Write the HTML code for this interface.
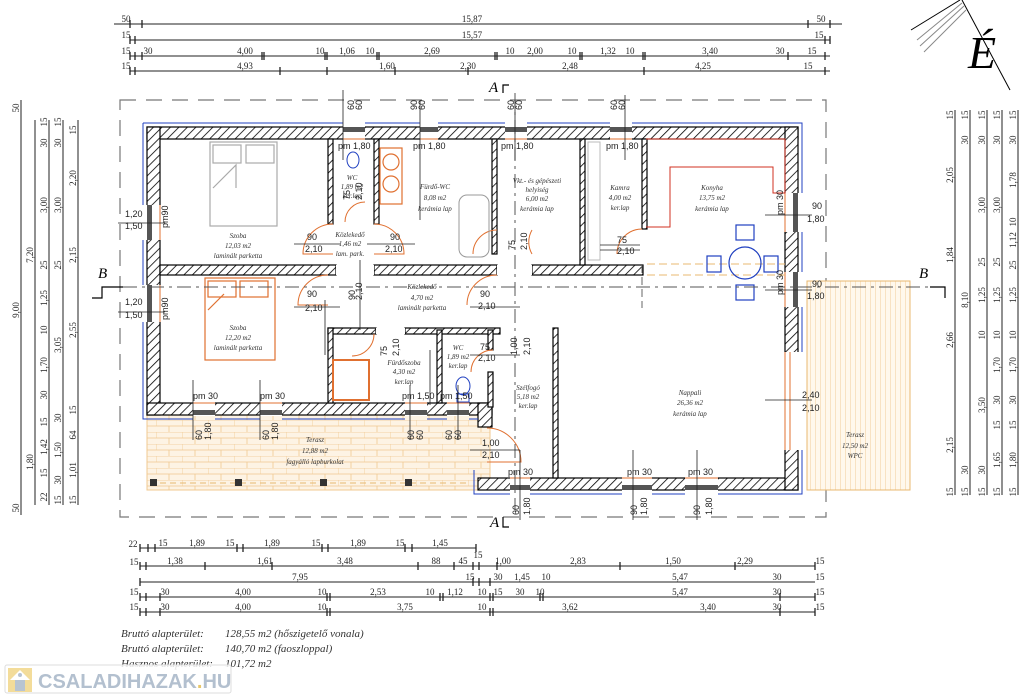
<!DOCTYPE html>
<html><head><meta charset="utf-8"><style>
html,body{margin:0;padding:0;background:#fff;}
svg{display:block;font-family:"Liberation Serif",serif;}
.d{font-size:9px;fill:#222;}
.s{font-family:"Liberation Sans",sans-serif;font-size:9px;fill:#222;}
.r{font-size:7px;font-style:italic;fill:#333;text-anchor:middle;}
</style></head><body>
<svg width="1024" height="699" viewBox="0 0 1024 699" xmlns="http://www.w3.org/2000/svg">
<defs>
<pattern id="h" width="6" height="6" patternUnits="userSpaceOnUse" patternTransform="rotate(45)">
<rect width="6" height="6" fill="#fff"/><line x1="0" y1="0" x2="0" y2="6" stroke="#000" stroke-width="1.6"/></pattern>
<pattern id="brick" width="26" height="12" patternUnits="userSpaceOnUse">
<rect width="26" height="12" fill="#fdf3e4"/><path d="M0 0H26M0 6H26M0 0V6M13 6V12" stroke="#f0c890" stroke-width="0.8" fill="none"/></pattern>
<pattern id="wpc" width="5" height="10" patternUnits="userSpaceOnUse">
<rect width="5" height="10" fill="#fff8ec"/><line x1="0" y1="0" x2="0" y2="10" stroke="#f0c890" stroke-width="0.9"/></pattern>
</defs>

<!-- north symbol -->
<g stroke="#000" fill="none">
<line x1="911" y1="30" x2="960" y2="0"/><line x1="917" y1="40" x2="962" y2="3" stroke="#888"/><line x1="920" y1="46" x2="964" y2="6" stroke="#888"/><line x1="924" y1="52" x2="966" y2="10" stroke="#888"/>
<line x1="962" y1="0" x2="1010" y2="90"/>
</g>
<text x="968" y="68" font-size="46" font-style="italic" fill="#000">É</text>

<!-- top dimension rows -->
<g stroke="#222" stroke-width="1">
<line x1="114" y1="24" x2="842" y2="24"/><line x1="130" y1="40" x2="830" y2="40"/><line x1="130" y1="56" x2="830" y2="56"/><line x1="130" y1="71" x2="830" y2="71"/>
</g>
<g class="d" text-anchor="middle">
<text x="126" y="22">50</text><text x="472" y="22">15,87</text><text x="821" y="22">50</text>
<text x="126" y="38">15</text><text x="472" y="38">15,57</text><text x="819" y="38">15</text>
<text x="126" y="54">15</text><text x="148" y="54">30</text><text x="245" y="54">4,00</text><text x="256" y="54"></text><text x="320" y="54">10</text><text x="347" y="54">1,06</text><text x="370" y="54">10</text><text x="432" y="54">2,69</text><text x="510" y="54">10</text><text x="535" y="54">2,00</text><text x="572" y="54">10</text><text x="608" y="54">1,32</text><text x="630" y="54">10</text><text x="710" y="54">3,40</text><text x="780" y="54">30</text><text x="812" y="54">15</text>
<text x="126" y="69">15</text><text x="245" y="69">4,93</text><text x="387" y="69">1,60</text><text x="468" y="69">2,30</text><text x="570" y="69">2,48</text><text x="703" y="69">4,25</text><text x="808" y="69">15</text>
</g>
<g stroke="#222" stroke-width="1.3">
<path d="M130 20v8M142 20v8M808 20v8M830 20v8M130 36v8M135 36v8M825 36v8M830 36v8M130 52v8M135 52v8M142 52v8M262 52v8M264 52v8M325 52v8M327 52v8M377 52v8M379 52v8M495 52v8M497 52v8M580 52v8M582 52v8M643 52v8M645 52v8M788 52v8M825 52v8M130 67v8M135 67v8M280 67v8M327 67v8M395 67v8M468 67v8M644 67v8M825 67v8"/>
</g>

<!-- left vertical dims -->
<g stroke="#222" stroke-width="1">
<line x1="21" y1="100" x2="21" y2="515"/><line x1="35" y1="120" x2="35" y2="505"/><line x1="49" y1="120" x2="49" y2="505"/><line x1="63" y1="120" x2="63" y2="505"/><line x1="78" y1="120" x2="78" y2="505"/>
</g>
<g class="d" text-anchor="middle">
<text transform="translate(19,108) rotate(-90)">50</text><text transform="translate(19,310) rotate(-90)">9,00</text><text transform="translate(19,508) rotate(-90)">50</text>
<text transform="translate(33,255) rotate(-90)">7,20</text><text transform="translate(33,462) rotate(-90)">1,80</text>
<text transform="translate(47,122) rotate(-90)">15</text><text transform="translate(47,143) rotate(-90)">30</text><text transform="translate(47,205) rotate(-90)">3,00</text><text transform="translate(47,265) rotate(-90)">25</text><text transform="translate(47,298) rotate(-90)">1,25</text><text transform="translate(47,330) rotate(-90)">10</text><text transform="translate(47,365) rotate(-90)">1,70</text><text transform="translate(47,395) rotate(-90)">30</text><text transform="translate(47,422) rotate(-90)">15</text><text transform="translate(47,447) rotate(-90)">1,42</text><text transform="translate(47,473) rotate(-90)">15</text><text transform="translate(47,497) rotate(-90)">22</text>
<text transform="translate(61,122) rotate(-90)">15</text><text transform="translate(61,143) rotate(-90)">30</text><text transform="translate(61,205) rotate(-90)">3,00</text><text transform="translate(61,265) rotate(-90)">25</text><text transform="translate(61,345) rotate(-90)">3,05</text><text transform="translate(61,418) rotate(-90)">30</text><text transform="translate(61,450) rotate(-90)">1,50</text><text transform="translate(61,480) rotate(-90)">30</text><text transform="translate(61,500) rotate(-90)">15</text>
<text transform="translate(76,130) rotate(-90)">15</text><text transform="translate(76,178) rotate(-90)">2,20</text><text transform="translate(76,255) rotate(-90)">2,15</text><text transform="translate(76,330) rotate(-90)">2,55</text><text transform="translate(76,410) rotate(-90)">15</text><text transform="translate(76,435) rotate(-90)">64</text><text transform="translate(76,470) rotate(-90)">1,01</text><text transform="translate(76,500) rotate(-90)">15</text>
</g>

<!-- right vertical dims -->
<g stroke="#222" stroke-width="1">
<line x1="955" y1="110" x2="955" y2="495"/><line x1="970" y1="110" x2="970" y2="495"/><line x1="987" y1="110" x2="987" y2="495"/><line x1="1002" y1="110" x2="1002" y2="495"/><line x1="1018" y1="110" x2="1018" y2="495"/>
</g>
<g class="d" text-anchor="middle">
<text transform="translate(953,115) rotate(-90)">15</text><text transform="translate(953,175) rotate(-90)">2,05</text><text transform="translate(953,255) rotate(-90)">1,84</text><text transform="translate(953,340) rotate(-90)">2,66</text><text transform="translate(953,445) rotate(-90)">2,15</text><text transform="translate(953,492) rotate(-90)">15</text>
<text transform="translate(968,115) rotate(-90)">15</text><text transform="translate(968,140) rotate(-90)">30</text><text transform="translate(968,300) rotate(-90)">8,10</text><text transform="translate(968,470) rotate(-90)">30</text><text transform="translate(968,492) rotate(-90)">15</text>
<text transform="translate(985,115) rotate(-90)">15</text><text transform="translate(985,140) rotate(-90)">30</text><text transform="translate(985,205) rotate(-90)">3,00</text><text transform="translate(985,262) rotate(-90)">25</text><text transform="translate(985,295) rotate(-90)">1,25</text><text transform="translate(985,335) rotate(-90)">10</text><text transform="translate(985,405) rotate(-90)">3,50</text><text transform="translate(985,470) rotate(-90)">30</text><text transform="translate(985,492) rotate(-90)">15</text>
<text transform="translate(1000,115) rotate(-90)">15</text><text transform="translate(1000,140) rotate(-90)">30</text><text transform="translate(1000,205) rotate(-90)">3,00</text><text transform="translate(1000,262) rotate(-90)">25</text><text transform="translate(1000,295) rotate(-90)">1,25</text><text transform="translate(1000,335) rotate(-90)">10</text><text transform="translate(1000,365) rotate(-90)">1,70</text><text transform="translate(1000,400) rotate(-90)">30</text><text transform="translate(1000,425) rotate(-90)">15</text><text transform="translate(1000,460) rotate(-90)">1,65</text><text transform="translate(1000,492) rotate(-90)">15</text>
<text transform="translate(1016,115) rotate(-90)">15</text><text transform="translate(1016,140) rotate(-90)">30</text><text transform="translate(1016,180) rotate(-90)">1,78</text><text transform="translate(1016,222) rotate(-90)">10</text><text transform="translate(1016,240) rotate(-90)">1,12</text><text transform="translate(1016,265) rotate(-90)">25</text><text transform="translate(1016,295) rotate(-90)">1,25</text><text transform="translate(1016,335) rotate(-90)">10</text><text transform="translate(1016,365) rotate(-90)">1,70</text><text transform="translate(1016,400) rotate(-90)">30</text><text transform="translate(1016,425) rotate(-90)">15</text><text transform="translate(1016,460) rotate(-90)">1,80</text><text transform="translate(1016,492) rotate(-90)">15</text>
</g>

<!-- dashed outline -->
<rect x="120" y="100" width="706" height="417" fill="none" stroke="#777" stroke-width="1.2" stroke-dasharray="16,10"/>

<!-- terraces -->
<rect x="147" y="415" width="343" height="75" fill="url(#brick)" stroke="#f0c890"/>
<rect x="807" y="281" width="103" height="209" fill="url(#wpc)" stroke="#e8b870"/>
<line x1="150" y1="483" x2="470" y2="483" stroke="#e8b870" stroke-dasharray="6,4"/>
<g fill="#333"><rect x="150" y="479" width="7" height="7"/><rect x="235" y="479" width="7" height="7"/><rect x="320" y="479" width="7" height="7"/><rect x="405" y="479" width="7" height="7"/></g>

<!-- walls -->
<g fill="url(#h)" stroke="#000" stroke-width="1.2">
<rect x="147" y="127" width="651" height="12"/>
<rect x="147" y="127" width="13" height="288"/>
<rect x="147" y="403" width="345" height="12"/>
<rect x="478" y="403" width="14" height="24"/>
<rect x="478" y="478" width="320" height="12"/>
<rect x="785" y="127" width="13" height="363"/>
<rect x="160" y="265" width="176" height="10"/>
<rect x="374" y="265" width="123" height="10"/>
<rect x="532" y="265" width="111" height="10"/>
<rect x="328" y="139" width="5" height="85"/>
<rect x="374" y="139" width="5" height="85"/>
<rect x="492" y="139" width="5" height="115"/>
<rect x="580" y="139" width="5" height="126"/>
<rect x="642" y="139" width="5" height="90"/>
<rect x="328" y="328" width="48" height="6"/>
<rect x="405" y="328" width="95" height="6"/>
<rect x="328" y="328" width="5" height="75"/>
<rect x="437" y="330" width="5" height="73"/>
<rect x="488" y="330" width="5" height="20"/>
<rect x="488" y="372" width="5" height="35"/>
<rect x="553" y="328" width="5" height="150"/>
</g>
<!-- windows -->
<g fill="#fff" stroke="none">
<rect x="343" y="126" width="22" height="14"/><rect x="420" y="126" width="18" height="14"/><rect x="505" y="126" width="22" height="14"/><rect x="610" y="126" width="22" height="14"/>
<rect x="146" y="205" width="15" height="35"/><rect x="146" y="285" width="15" height="37"/>
<rect x="193" y="402" width="22" height="14"/><rect x="260" y="402" width="22" height="14"/><rect x="405" y="402" width="22" height="14"/><rect x="447" y="402" width="22" height="14"/>
<rect x="510" y="477" width="20" height="14"/><rect x="622" y="477" width="30" height="14"/><rect x="685" y="477" width="33" height="14"/>
<rect x="784" y="193" width="15" height="39"/><rect x="784" y="272" width="15" height="35"/><rect x="784" y="352" width="15" height="98"/>
<rect x="336" y="265" width="38" height="10"/><rect x="497" y="265" width="35" height="10"/><rect x="376" y="328" width="29" height="6"/>
</g>
<g fill="#555"><rect x="343" y="127" width="22" height="5"/><rect x="420" y="127" width="18" height="5"/><rect x="505" y="127" width="22" height="5"/><rect x="610" y="127" width="22" height="5"/>
<rect x="147" y="205" width="5" height="35"/><rect x="147" y="285" width="5" height="37"/>
<rect x="193" y="410" width="22" height="5"/><rect x="260" y="410" width="22" height="5"/><rect x="405" y="410" width="22" height="5"/><rect x="447" y="410" width="22" height="5"/>
<rect x="510" y="485" width="20" height="5"/><rect x="622" y="485" width="30" height="5"/><rect x="685" y="485" width="33" height="5"/>
<rect x="793" y="193" width="5" height="39"/><rect x="793" y="272" width="5" height="35"/></g>
<g stroke="#e07030" stroke-width="1" fill="none">
<path d="M343 139h22M420 139h18M505 139h22M610 139h22M160 205v35M160 285v37M193 403h22M260 403h22M405 403h22M447 403h22M510 478h20M622 478h30M685 478h33M785 193v39M785 272v35M785 352v98M790 352v98"/>
</g>
<!-- blue outer lines -->
<g stroke="#2040c0" stroke-width="1" fill="none">
<path d="M143 123H343M365 123H420M438 123H505M527 123H610M632 123H802V193M802 232V272M802 307V352M802 450V494H718M685 494H652M622 494H530M510 494H474V470M143 123V205M143 240V285M143 322V419H193M215 419H260M282 419H405M427 419H447M469 419H478"/>
</g>

<!-- door arcs -->
<g stroke="#e07030" stroke-width="1" fill="none">
<path d="M333 224 A30 30 0 0 0 303 254 L333 254"/><path d="M374 224 A30 30 0 0 1 404 254 L374 254"/>
<path d="M328 275 A30 30 0 0 0 298 305 L328 305"/><path d="M374 334 A22 22 0 0 1 352 356"/>
<path d="M497 230 A24 24 0 0 0 473 254"/><path d="M497 275 A30 30 0 0 0 467 305"/>
<path d="M493 350 A22 22 0 0 0 471 372"/><path d="M532 230 A24 24 0 0 0 532 254"/>
<path d="M642 229 A25 25 0 0 0 617 254"/><path d="M487 428 A34 34 0 0 1 521 462 L487 462"/>
<path d="M345 222 A20 20 0 0 1 365 202"/>
</g>
<!-- kitchen counter -->
<path d="M646 139H785V193H773V167H670V227H646" fill="none" stroke="#d03020" stroke-width="1"/>
<path d="M647 264H785M647 275H785" stroke="#e8b870" stroke-dasharray="8,4"/>
<line x1="642" y1="265" x2="642" y2="308" stroke="#666" stroke-dasharray="8,4"/>
<!-- dining -->
<g stroke="#2040c0" fill="none" stroke-width="1.2"><circle cx="745" cy="263" r="16"/><rect x="736" y="225" width="18" height="15"/><rect x="736" y="285" width="18" height="15"/><rect x="707" y="256" width="14" height="16"/><rect x="764" y="256" width="14" height="16"/></g>
<!-- bedroom furniture -->
<g stroke="#aaa" fill="none" stroke-width="1.2"><rect x="210" y="142" width="67" height="84"/><rect x="213" y="145" width="28" height="18"/><rect x="246" y="145" width="28" height="18"/><path d="M213 188L236 165V188"/></g>
<g stroke="#e07030" fill="none" stroke-width="1.2"><rect x="205" y="278" width="70" height="82"/><rect x="208" y="281" width="28" height="16"/><rect x="240" y="281" width="28" height="16"/><path d="M208 310L224 294"/><rect x="333" y="360" width="36" height="40" stroke-width="2"/>
<rect x="380" y="148" width="22" height="56"/><circle cx="391" cy="162" r="8"/><circle cx="391" cy="184" r="8"/></g>
<rect x="459" y="195" width="30" height="62" rx="8" fill="none" stroke="#999"/>
<rect x="588" y="142" width="12" height="118" fill="none" stroke="#bbb"/>
<g stroke="#2040c0" fill="none"><ellipse cx="353" cy="160" rx="6" ry="8"/><ellipse cx="463" cy="386" rx="7" ry="9"/><rect x="457" y="394" width="12" height="8"/></g>

<!-- section lines -->
<g stroke="#000" stroke-width="1.2" fill="none">
<path d="M92 298H102V287H123"/><path d="M930 287H945V298"/>
<path d="M503 93V85H509"/><path d="M503 517V527H509"/>
</g>
<line x1="123" y1="287" x2="930" y2="287" stroke="#555" stroke-dasharray="14,5,3,5"/>
<line x1="515" y1="93" x2="515" y2="517" stroke="#555" stroke-dasharray="14,5,3,5"/>
<g font-size="15" font-style="italic" fill="#000"><text x="98" y="278">B</text><text x="919" y="278">B</text><text x="489" y="92">A</text><text x="490" y="527">A</text></g>

<!-- opening labels -->
<g class="s" font-size="8">
<text x="125" y="217">1,20</text><text x="125" y="229">1,50</text><text x="125" y="305">1,20</text><text x="125" y="318">1,50</text>
<text transform="translate(168,228) rotate(-90)">pm90</text><text transform="translate(168,320) rotate(-90)">pm90</text>
<text x="338" y="149">pm 1,80</text><text x="413" y="149">pm 1,80</text><text x="501" y="149">pm 1,80</text><text x="606" y="149">pm 1,80</text>
<text x="307" y="240">90</text><text x="305" y="252">2,10</text><text x="390" y="240">90</text><text x="385" y="252">2,10</text>
<text x="307" y="297">90</text><text x="305" y="311">2,10</text><text x="480" y="297">90</text><text x="478" y="309">2,10</text>
<text x="480" y="350">75</text><text x="478" y="361">2,10</text><text x="617" y="243">75</text><text x="617" y="254">2,10</text>
<text x="482" y="446">1,00</text><text x="482" y="458">2,10</text>
<text x="812" y="209">90</text><text x="807" y="222">1,80</text><text x="812" y="287">90</text><text x="807" y="299">1,80</text>
<text x="802" y="398">2,40</text><text x="802" y="411">2,10</text>
<text x="193" y="399">pm 30</text><text x="260" y="399">pm 30</text><text x="402" y="399">pm 1,50</text><text x="440" y="399">pm 1,50</text>
<text x="508" y="475">pm 30</text><text x="627" y="475">pm 30</text><text x="688" y="475">pm 30</text>
<text transform="translate(783,215) rotate(-90)">pm 30</text><text transform="translate(783,295) rotate(-90)">pm 30</text>
<text transform="translate(354,110) rotate(-90)">60</text><text transform="translate(362,110) rotate(-90)">60</text><text transform="translate(417,110) rotate(-90)">90</text><text transform="translate(425,110) rotate(-90)">60</text><text transform="translate(514,110) rotate(-90)">60</text><text transform="translate(522,110) rotate(-90)">60</text><text transform="translate(617,110) rotate(-90)">60</text><text transform="translate(625,110) rotate(-90)">60</text>
<text transform="translate(202,440) rotate(-90)">60</text><text transform="translate(211,440) rotate(-90)">1,80</text><text transform="translate(269,440) rotate(-90)">60</text><text transform="translate(278,440) rotate(-90)">1,80</text><text transform="translate(414,440) rotate(-90)">60</text><text transform="translate(423,440) rotate(-90)">60</text><text transform="translate(452,440) rotate(-90)">60</text><text transform="translate(461,440) rotate(-90)">60</text>
<text transform="translate(519,515) rotate(-90)">60</text><text transform="translate(530,515) rotate(-90)">1,80</text><text transform="translate(637,515) rotate(-90)">90</text><text transform="translate(647,515) rotate(-90)">1,80</text><text transform="translate(700,515) rotate(-90)">90</text><text transform="translate(712,515) rotate(-90)">1,80</text>
<text transform="translate(350,200) rotate(-90)">75</text><text transform="translate(362,200) rotate(-90)">2,10</text><text transform="translate(355,300) rotate(-90)">90</text><text transform="translate(362,300) rotate(-90)">2,10</text>
<text transform="translate(387,356) rotate(-90)">75</text><text transform="translate(399,356) rotate(-90)">2,10</text><text transform="translate(515,250) rotate(-90)">75</text><text transform="translate(527,250) rotate(-90)">2,10</text>
<text transform="translate(517,355) rotate(-90)">1,00</text><text transform="translate(530,355) rotate(-90)">2,10</text>
</g>
<g stroke="#222" stroke-width="0.8"><path d="M118 223H165M118 312H165M294 244H340M367 244H415M294 307H340M470 307H520M470 355H520M600 245H640M600 250H640M470 450H520M765 215H812M765 290H812M765 400H812M343 90V160M420 100V220M515 100V160M625 95V160M193 380V440M260 380V440M410 385V440M458 385V440M520 450V520M633 450V520M697 450V520M325 355V300M430 350V405M360 260V330"/></g>

<!-- room labels -->
<g class="r">
<text x="238" y="238">Szoba</text><text x="238" y="248">12,03 m2</text><text x="238" y="258">laminált parketta</text>
<text x="238" y="330">Szoba</text><text x="238" y="340">12,20 m2</text><text x="238" y="350">laminált parketta</text>
<text x="352" y="180">WC</text><text x="352" y="189">1,89 m2</text><text x="352" y="198">ker.lap</text>
<text x="435" y="189">Fürdő-WC</text><text x="435" y="200">8,08 m2</text><text x="435" y="211">kerámia lap</text>
<text x="350" y="237">Közlekedő</text><text x="350" y="246">1,46 m2</text><text x="350" y="256">lam. park.</text>
<text x="422" y="289">Közlekedő</text><text x="422" y="300">4,70 m2</text><text x="422" y="310">laminált parketta</text>
<text x="537" y="183">Vkt.- és gépészeti</text><text x="537" y="192">helyiség</text><text x="537" y="201">6,00 m2</text><text x="537" y="211">kerámia lap</text>
<text x="620" y="190">Kamra</text><text x="620" y="200">4,00 m2</text><text x="620" y="210">ker.lap</text>
<text x="712" y="190">Konyha</text><text x="712" y="200">13,75 m2</text><text x="712" y="211">kerámia lap</text>
<text x="404" y="365">Fürdőszoba</text><text x="404" y="374">4,30 m2</text><text x="404" y="384">ker.lap</text>
<text x="458" y="350">WC</text><text x="458" y="359">1,89 m2</text><text x="458" y="368">ker.lap</text>
<text x="528" y="390">Szélfogó</text><text x="528" y="399">5,18 m2</text><text x="528" y="408">ker.lap</text>
<text x="690" y="395">Nappali</text><text x="690" y="405">26,36 m2</text><text x="690" y="416">kerámia lap</text>
<text x="315" y="442">Terasz</text><text x="315" y="453">12,88 m2</text><text x="315" y="464">fagyálló lapburkolat</text>
<text x="855" y="437">Terasz</text><text x="855" y="448">12,50 m2</text><text x="855" y="458">WPC</text>
</g>

<!-- bottom dimension rows -->
<g stroke="#222" stroke-width="1">
<line x1="140" y1="548" x2="476" y2="548"/><line x1="140" y1="566" x2="815" y2="566"/><line x1="140" y1="582" x2="815" y2="582"/><line x1="140" y1="597" x2="815" y2="597"/><line x1="140" y1="612" x2="815" y2="612"/>
</g>
<g stroke="#222" stroke-width="1.3"><path d="M140 544v8M148 544v8M155 544v8M237 544v8M243 544v8M322 544v8M328 544v8M405 544v8M412 544v8M476 544v8M140 562v8M146 562v8M205 562v8M272 562v8M418 562v8M454 562v8M473 562v8M479 562v8M497 562v8M620 562v8M735 562v8M815 562v8M140 578v8M473 578v8M479 578v8M490 578v8M140 593v8M146 593v8M160 593v8M327 593v8M330 593v8M440 593v8M443 593v8M490 593v8M493 593v8M540 593v8M543 593v8M780 593v8M815 593v8M140 608v8M146 608v8M160 608v8M327 608v8M330 608v8M490 608v8M493 608v8M780 608v8M815 608v8"/></g>
<g class="d" text-anchor="middle">
<text x="133" y="547">22</text><text x="163" y="546">15</text><text x="197" y="546">1,89</text><text x="230" y="546">15</text><text x="272" y="546">1,89</text><text x="316" y="546">15</text><text x="358" y="546">1,89</text><text x="400" y="546">15</text><text x="440" y="546">1,45</text><text x="478" y="558">15</text>
<text x="134" y="565">15</text><text x="175" y="564">1,38</text><text x="265" y="564">1,61</text><text x="345" y="564">3,48</text><text x="436" y="564">88</text><text x="463" y="564">45</text><text x="503" y="564">1,00</text><text x="578" y="564">2,83</text><text x="673" y="564">1,50</text><text x="745" y="564">2,29</text><text x="820" y="564">15</text>
<text x="300" y="580">7,95</text><text x="470" y="580">15</text><text x="498" y="580">30</text><text x="522" y="580">1,45</text><text x="546" y="580">10</text><text x="680" y="580">5,47</text><text x="777" y="580">30</text><text x="820" y="580">15</text>
<text x="134" y="595">15</text><text x="165" y="595">30</text><text x="243" y="595">4,00</text><text x="322" y="595">10</text><text x="378" y="595">2,53</text><text x="430" y="595">10</text><text x="455" y="595">1,12</text><text x="482" y="595">10</text><text x="498" y="595">15</text><text x="520" y="595">30</text><text x="540" y="595">10</text><text x="680" y="595">5,47</text><text x="777" y="595">30</text><text x="820" y="595">15</text>
<text x="134" y="610">15</text><text x="165" y="610">30</text><text x="243" y="610">4,00</text><text x="322" y="610">10</text><text x="405" y="610">3,75</text><text x="482" y="610">10</text><text x="570" y="610">3,62</text><text x="708" y="610">3,40</text><text x="777" y="610">30</text><text x="820" y="610">15</text>
</g>

<!-- area text -->
<g font-size="11" font-style="italic" fill="#333">
<text x="121" y="637">Bruttó alapterület:</text><text x="225" y="637">128,55 m2 (hőszigetelő vonala)</text>
<text x="121" y="652">Bruttó alapterület:</text><text x="225" y="652">140,70 m2 (faoszloppal)</text>
<text x="121" y="667">Hasznos alapterület:</text><text x="225" y="667">101,72 m2</text>
</g>

<!-- logo -->
<rect x="5" y="665" width="226" height="28" rx="2" fill="#fff" fill-opacity="0.85" stroke="#ddd"/>
<rect x="8" y="668" width="24" height="24" fill="#f3dc9a"/>
<path d="M10 680L20 670L30 680Z" fill="#fff"/><rect x="15" y="680" width="10" height="11" fill="#b8c4d2"/><circle cx="20" cy="675" r="2" fill="#b8c4d2"/>
<text x="38" y="688" font-family="Liberation Sans,sans-serif" font-weight="bold" font-size="20" fill="#b3c0cf">CSALADIHAZAK<tspan fill="#e8c76a">.</tspan>HU</text>
</svg>
</body></html>
